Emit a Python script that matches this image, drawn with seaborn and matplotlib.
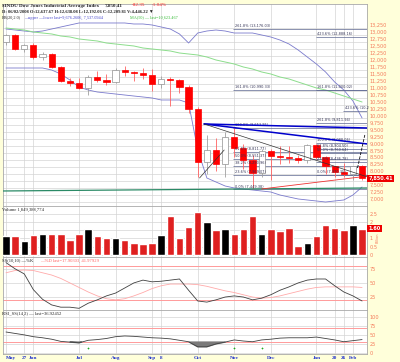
import numpy as np
import pandas as pd
import matplotlib
matplotlib.use("Agg")
import matplotlib.pyplot as plt
import seaborn as sns

# -------------------------------
# Data (weekly $INDU, May 2008 - Feb 2009)
# -------------------------------
tick_idx = [0, 2, 3, 8, 12, 16, 17, 21, 25, 29, 34, 36, 37, 38]
tick_lab = ["May", "27", "Jun", "Jul", "Aug", "Sep", "8", "Oct", "Nov", "Dec", "Jan", "20", "26", "Feb"]

opens = [12745, 12987, 12480, 12638, 12210, 12307, 11843, 11347, 11289, 11101,
         11497, 11371, 11326, 11734, 11660, 11628, 11544, 11221, 11422, 11388,
         11143, 10325, 8451, 8852, 8379, 9325, 8944, 8497, 8046, 8829,
         8635, 8630, 8579, 8516, 9035, 8599, 8281, 8078, 8001, 8281]
highs = [13028, 13028, 12690, 12700, 12380, 12360, 11900, 11450, 11460, 11550,
         11700, 11600, 11800, 11870, 11700, 11800, 11790, 11530, 11500, 11400,
         11200, 10400, 9400, 9300, 9500, 9650, 9100, 8700, 8900, 8900,
         9000, 9000, 8700, 9100, 9090, 8640, 8300, 8400, 8300, 8320]
lows = [12640, 12453, 12380, 12150, 12100, 11800, 11300, 11150, 11050, 10827,
        11300, 11200, 11260, 11530, 11350, 11400, 11000, 11100, 10460, 10900,
        10200, 7882, 8000, 8100, 7900, 8600, 8200, 7449, 7900, 7800,
        8350, 8400, 8400, 8400, 8550, 8000, 7900, 7900, 7800, 7800]
closes = [12987, 12480, 12638, 12210, 12307, 11843, 11347, 11289, 11101, 11497,
          11371, 11326, 11734, 11660, 11628, 11544, 11221, 11422, 11388, 11143,
          10325, 8451, 8852, 8379, 9325, 8944, 8497, 8046, 8829, 8635,
          8630, 8579, 8516, 9035, 8599, 8281, 8078, 8001, 8281, 7850]
volume = [1.14, 1.17, 0.85, 1.20, 1.26, 1.26, 1.26, 0.93, 1.26, 1.57,
          1.18, 1.02, 1.02, 0.89, 0.70, 0.68, 0.74, 1.22, 2.40, 1.04,
          1.68, 2.60, 2.00, 1.50, 1.57, 1.26, 1.60, 2.40, 1.30, 1.56,
          1.45, 1.66, 0.52, 0.74, 1.17, 1.84, 1.66, 1.50, 1.80, 1.60]
bb_upper = [13214, 13178, 13142, 13106, 13142, 13214, 13286, 13358, 13430, 13430,
            13430, 13430, 13430, 13430, 13394, 13394, 13358, 13286, 13214, 13035,
            12711, 13070, 13142, 13178, 13142, 13070, 13070, 13070, 12999, 12927,
            12819, 12675, 12460, 12208, 11957, 11670, 11310, 11023, 10628, 10017]
bb_lower = [11813, 11813, 11813, 11813, 11813, 11741, 11598, 11382, 11131, 11023,
            10951, 10915, 10879, 10843, 10807, 10772, 10736, 10664, 10664, 10664,
            10556, 8868, 7862, 7718, 7575, 7503, 7467, 7431, 7395, 7359,
            7251, 7179, 7108, 7072, 7036, 7000, 7036, 7072, 7251, 7539]
ma50 = [13250, 13214, 13178, 13106, 13070, 13035, 12963, 12927, 12855, 12819,
        12783, 12711, 12675, 12639, 12604, 12532, 12496, 12460, 12424, 12352,
        12316, 12280, 12208, 12101, 12029, 11957, 11849, 11777, 11670, 11598,
        11490, 11418, 11310, 11203, 11095, 11023, 10915, 10807, 10700, 10592]
stoch_k = [86, 75, 66, 38, 21, 11, 7, 7, 5, 14, 20, 27, 32, 41, 50, 55, 52, 53, 55, 57,
           37, 18, 16, 20, 25, 27, 25, 20, 23, 29, 37, 43, 50, 55, 57, 57, 45, 34, 27, 18]
stoch_d = [68, 72, 73, 72, 68, 64, 58, 50, 42, 34, 27, 22, 20, 22, 27, 33, 40, 45, 48, 48,
           48, 47, 44, 40, 36, 33, 29, 25, 23, 24, 27, 31, 35, 39, 42, 43, 43, 43, 43, 42]
rsi = [58, 54, 50, 45, 42, 38, 32, 30, 28, 35, 37, 40, 45, 47, 46, 44, 42, 41, 39, 35,
       31, 17, 17, 25, 30, 36, 33, 31, 36, 38, 41, 42, 42, 42, 44, 40, 36, 31, 34, 37]
event_idx = [9, 25, 28]

# fibonacci levels: start index, price, label
fib_start = [25, 34, 25, 34, 37, 34, 25, 25, 25, 25, 25, 25, 34, 34, 34, 34, 34]
fib_price = [13214, 12927, 11023, 11023, 10269, 9838, 9654, 8812, 8551, 8291, 7969, 7449,
             9119, 8904, 8760, 8437, 7970]
fib_label = ["261.8% (13,176.03)", "423.6% (12,888.16)", "161.8% (10,990.33)",
             "161.8% (11,000.02)", "423.6% (10,2", "261.8% (9,811.94)",
             "100.0% (9,653.95)", "61.8% (8,811.77)", "50.0% (8,551.37)",
             "38.2% (8,290.96)", "23.6% (7,969.07)", "0.0% (7,449.38)",
             "100.0% (9,088.06)", "61.8% (8,904.50)", "50.0% (8,760.64)",
             "23.6% (8,436.78)", "0.0% (7,970.35)"]

# trend lines
tl_x0 = [21.7, 21.7, 21.7, 21.2, -0.5, 28.0, 38.5]
tl_x1 = [39.6, 39.6, 39.6, 23.9, 39.6, 38.8, 39.3]
tl_y0 = [9802, 9802, 9802, 7862, 7395, 7467, 8221]
tl_y1 = [9658, 9083, 7900, 8868, 7503, 7898, 9407]
tl_col = ["#0000CC", "#0000CC", "#333333", "#333333", "#2A8A66", "#EE3333", "#111111"]
tl_lw = [1.1, 1.1, 0.5, 0.5, 0.9, 0.6, 0.6]
tl_ls = ["-", "-", "-", "-", "-", "-", "--"]

# -------------------------------
# Layout (pixel based)
# -------------------------------
W, H = 400, 362
L, R = 3, 367
BG = "#FFFFDA"
GRID = "#D4D4D4"
LAB = "#F47A5A"
SERIF = ["Liberation Serif", "DejaVu Serif"]

sns.set_theme(style="white")
plt.rcParams["font.family"] = ["DejaVu Sans"]

fig = plt.figure(figsize=(W / 100, H / 100), dpi=100, facecolor=BG)
XLIM = ((L - 6) / 9.13, (R - 6) / 9.13)


def panel(top, bottom):
    ax = fig.add_axes([L / W, 1 - bottom / H, (R - L) / W, (bottom - top) / H])
    ax.set_facecolor("white")
    for s in ax.spines.values():
        s.set_color("#A8A8A8")
        s.set_linewidth(0.6)
    ax.set_xlim(*XLIM)
    ax.set_xticks(tick_idx)
    ax.tick_params(axis="x", length=0, labelbottom=False)
    ax.yaxis.tick_right()
    ax.tick_params(axis="y", length=0, pad=1.8, labelsize=3.6, labelcolor=LAB)
    ax.grid(True, color=GRID, lw=0.5)
    ax.set_axisbelow(True)
    return ax


def ftext(x, y, s, **kw):
    fig.text(x / W, 1 - y / H, s, va="center", ha="left", **kw)


ax = panel(4, 206)
axv = panel(206, 257)
axs = panel(257, 310)
axr = panel(310, 354)

idx = np.arange(len(closes))
df = pd.DataFrame({"i": idx, "open": opens, "high": highs, "low": lows, "close": closes,
                   "volume": volume})
df["up"] = df["close"] >= df["open"]
df["dir"] = np.where(df["close"].diff().fillna(1) > 0, "up", "down")

# -------------------------------
# Price panel
# -------------------------------
ax.set_ylim(6856, 14112)
yt = np.arange(7000, 13251, 250)
ax.set_yticks(yt)
ax.set_yticklabels(["" if v == 7750 else f"{v:,}" for v in yt])
for t in ax.get_yticklabels():
    t.set_va("bottom")

for up, sub in df.groupby("up"):
    col = "#909090" if up else "#FF0000"
    ax.vlines(sub["i"], sub["low"], sub["high"], color="#A0A0A0" if up else "#FF6060", lw=0.6, zorder=3)
    ax.bar(sub["i"], (sub["close"] - sub["open"]).abs().clip(lower=12),
           bottom=np.minimum(sub["open"], sub["close"]), width=0.68,
           color="white" if up else "#FF0000", edgecolor=col, lw=0.5, zorder=4)

sns.lineplot(x=idx, y=bb_upper, ax=ax, color="#7A7ACC", lw=0.6, zorder=2)
sns.lineplot(x=idx, y=bb_lower, ax=ax, color="#7A7ACC", lw=0.6, zorder=2)
sns.lineplot(x=idx, y=ma50, ax=ax, color="#8CDD8C", lw=0.7, zorder=2)

for s, p, lab in zip(fib_start, fib_price, fib_label):
    ax.hlines(p, s - 0.1, XLIM[1], color="#5C6690", lw=0.5, zorder=2)
    ax.text(s + 0.1, p + 30, lab, fontsize=2.5, color="#333355", va="bottom", zorder=5)

for x0, x1, y0, y1, c, w, ls in zip(tl_x0, tl_x1, tl_y0, tl_y1, tl_col, tl_lw, tl_ls):
    ax.plot([x0, x1], [y0, y1], color=c, lw=w, ls=ls, zorder=5)

ax.text(1.004, (7850 - 6856) / (14112 - 6856), "7,850.41", transform=ax.transAxes,
        fontsize=3.6, color="white", weight="bold", va="center", ha="left",
        bbox=dict(boxstyle="square,pad=0.2", fc="#EE0000", ec="none"), zorder=10)

ftext(2, 5.5, "$INDU Dow Jones Industrial Average Index", fontsize=3.7, weight="bold", family=SERIF)
ftext(105, 5.5, "7,850.41", fontsize=3.7, weight="bold", family=SERIF)
ftext(132, 5.5, "-82.35", fontsize=3.7, color="#FF2020", family=SERIF)
ftext(152, 5.5, "-1.04%", fontsize=3.7, color="#FF2020", family=SERIF)
ftext(2, 11.5, "D: 06/02/2008 O:12,637.67 H:12,638.08 L:12,192.06 C:12,209.81 V:4,446.22 \u25bc",
      fontsize=3.3, weight="bold", family=SERIF)
ftext(2, 18, "BB(20,2.0)", fontsize=3.1, family=SERIF)
ftext(24, 18, "\u2014upper \u2014lower last=9,676.2606, 7,537.0944", fontsize=3.1,
      color="#4444CC", family=SERIF)
ftext(130, 18, "MA(50) \u2014 last=10,623.467", fontsize=3.1, color="#33BB33", family=SERIF)

# -------------------------------
# Volume panel
# -------------------------------
sns.barplot(data=df, x="i", y="volume", hue="dir", palette={"up": "black", "down": "#FF0000"},
            dodge=False, width=0.82, legend=False, ax=axv, native_scale=True, zorder=3)
axv.set_xlim(*XLIM)
axv.set_ylim(-0.14, 3.0)
axv.set_yticks([0, 0.5, 1, 1.5, 2, 2.5])
axv.set_yticklabels(["0", "0.5", "1", "", "2", "2.5"])
ftext(2, 209.5, "Volume 1,849,388,774", fontsize=3.3, family=SERIF)
axv.text(1.004, (1.60 + 0.14) / 3.14, "1.60", transform=axv.transAxes, fontsize=3.6,
         color="white", weight="bold", va="center", ha="left",
         bbox=dict(boxstyle="square,pad=0.2", fc="#EE0000", ec="none"))
ftext(376, 238, "Billion", fontsize=2.4, color=LAB, rotation=90)

# -------------------------------
# Slow stochastic
# -------------------------------
axs.set_ylim(2, 96)
axs.set_yticks([25, 50, 75])
axs.axhline(80, color="#FF9A9A", lw=0.7)
axs.axhline(20, color="#FF9A9A", lw=0.7)
sns.lineplot(x=idx, y=stoch_d, ax=axs, color="#FFAAAA", lw=0.6)
sns.lineplot(x=idx, y=stoch_k, ax=axs, color="#404040", lw=0.6)
ftext(2, 260.5, "SS(10,10) \u2014%K", fontsize=3.3, family=SERIF)
ftext(40, 260.5, "\u2014%D last=17.90303, 41.97929", fontsize=3.3, color="#FF6060", family=SERIF)

# -------------------------------
# RSI
# -------------------------------
axr.set_ylim(-3, 119)
axr.set_yticks([0, 25, 50, 75, 100])
axr.axhline(70, color="#FF9A9A", lw=0.7)
axr.axhline(30, color="#FF9A9A", lw=0.7)
rsi_arr = np.array(rsi, dtype=float)
axr.fill_between(idx, rsi_arr, 30, where=rsi_arr < 30, interpolate=True, color="#7A7A7A", zorder=2)
sns.lineplot(x=idx, y=rsi, ax=axr, color="#404040", lw=0.6)
axr.scatter(event_idx, [15] * len(event_idx), marker="+", s=4, color="#22AA22", lw=0.5, zorder=5)
ftext(2, 313.5, "RSI_SS(14,2) \u2014 last=36.92452", fontsize=3.3, family=SERIF)
axr.set_xticklabels(tick_lab)
axr.tick_params(axis="x", labelbottom=True, labelsize=3.8, labelcolor="#2233CC", pad=1.2)
for t in axr.get_xticklabels():
    t.set_fontweight("bold")
    t.set_family(SERIF)
axr.get_xticklabels()[0].set_ha("left")

for a in (ax, axv, axs, axr):
    a.set_xlabel("")
    a.set_ylabel("")

fig.savefig("out.png", dpi=100, facecolor=BG)
